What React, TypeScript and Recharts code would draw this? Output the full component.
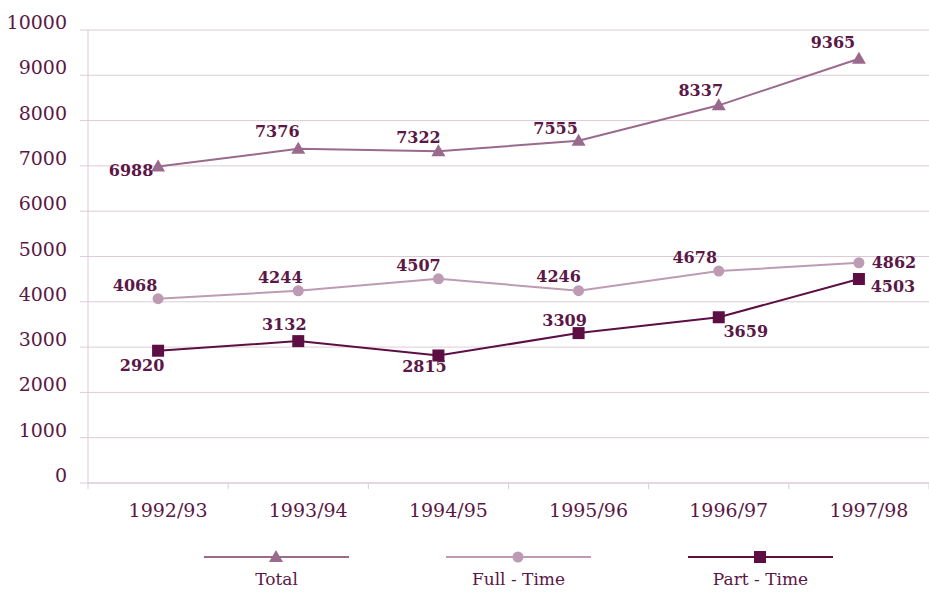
import React from 'react';
import { LineChart, Line, XAxis, YAxis, CartesianGrid, LabelList } from 'recharts';

const years = ['1992/93', '1993/94', '1994/95', '1995/96', '1996/97', '1997/98'];
const totalValues = [6988, 7376, 7322, 7555, 8337, 9365];
const fullTimeValues = [4068, 4244, 4507, 4246, 4678, 4862];
const partTimeValues = [2920, 3132, 2815, 3309, 3659, 4503];
const yTicks = [0, 1000, 2000, 3000, 4000, 5000, 6000, 7000, 8000, 9000, 10000];

const data = years.map((year, i) => ({
  year,
  total: totalValues[i],
  fullTime: fullTimeValues[i],
  partTime: partTimeValues[i],
}));

// label placement relative to each point (dx, dy)
const totalOffsets = [[-27, 4], [-21, -17], [-20, -14], [-23, -12], [-18, -15], [-26, -16]];
const fullOffsets = [[-23, -13], [-18, -13], [-20, -13], [-20, -14], [-24, -14], [35, 0]];
const partOffsets = [[-16, 15], [-14, -17], [-14, 11], [-14, -13], [27, 14], [34, 7]];

const TEXT = '#5b1746';
const GRID = '#dccbd6';
const C_TOTAL = '#9a6a8c';
const C_FULL = '#bd9cb3';
const C_PART = '#5d0f44';
const SERIF = '"DejaVu Serif", serif';

const W = 929;
const H = 596;
const X_AXIS_H = 30;
const M = { top: 30, right: 0, left: 0, bottom: 113 - X_AXIS_H };
const Y_AXIS_W = 88;
const BAND = (W - Y_AXIS_W) / years.length;

const Triangle = ({ cx, cy, fill }: any) => (
  <path d={`M${cx},${cy - 7}L${cx + 7},${cy + 5}L${cx - 7},${cy + 5}Z`} fill={fill} />
);
const Circle = ({ cx, cy, fill }: any) => <circle cx={cx} cy={cy} r={5.5} fill={fill} />;
const Square = ({ cx, cy, fill }: any) => (
  <rect x={cx - 6} y={cy - 6} width={12} height={12} fill={fill} />
);

const makeLabel = (offsets: number[][]) => (props: any) => {
  const { x, y, value, index } = props;
  const [dx, dy] = offsets[index] || [0, -12];
  return (
    <text
      key={index}
      x={x + dx}
      y={y + dy}
      textAnchor="middle"
      dominantBaseline="central"
      fill={TEXT}
      fontFamily={SERIF}
      fontWeight="bold"
      fontSize={16}
    >
      {value}
    </text>
  );
};

const YTick = ({ x, y, payload }: any) => (
  <text x={x - 11} y={y - 8} textAnchor="end" dominantBaseline="central" fill={TEXT} fontFamily={SERIF} fontSize={19}>
    {payload.value}
  </text>
);

const XTick = ({ x, y, payload, index }: any) => (
  <g>
    <line x1={x - BAND / 2} y1={y - 8} x2={x - BAND / 2} y2={y - 2} stroke={GRID} />
    {index === years.length - 1 && (
      <line x1={x + BAND / 2} y1={y - 8} x2={x + BAND / 2} y2={y - 2} stroke={GRID} />
    )}
    <text x={x + 10} y={y + 19} textAnchor="middle" dominantBaseline="central" fill={TEXT} fontFamily={SERIF} fontSize={19}>
      {payload.value}
    </text>
  </g>
);

const legendItems = [
  { name: 'Total', color: C_TOTAL, shape: 'triangle' },
  { name: 'Full - Time', color: C_FULL, shape: 'circle' },
  { name: 'Part - Time', color: C_PART, shape: 'square' },
];

const LegendMarker = ({ shape, color }: any) => {
  const cx = 72;
  const cy = 8;
  if (shape === 'triangle') return <Triangle cx={cx} cy={cy} fill={color} />;
  if (shape === 'circle') return <Circle cx={cx} cy={cy} fill={color} />;
  return <Square cx={cx} cy={cy} fill={color} />;
};

export default function App() {
  return (
    <div style={{ position: 'absolute', left: 0, top: 0, width: W, height: H, background: '#fff' }}>
      <LineChart width={W} height={H} data={data} margin={M}>
        <CartesianGrid horizontal vertical={false} stroke={GRID} />
        <XAxis
          dataKey="year"
          height={X_AXIS_H}
          padding={{ left: BAND / 2, right: BAND / 2 }}
          axisLine={{ stroke: GRID }}
          tickLine={false}
          tick={<XTick />}
          interval={0}
        />
        <YAxis
          width={Y_AXIS_W}
          domain={[0, 10000]}
          ticks={yTicks}
          interval={0}
          axisLine={{ stroke: GRID }}
          tickLine={{ stroke: GRID }}
          tickSize={8}
          tick={<YTick />}
        />
        <Line
          dataKey="total"
          stroke={C_TOTAL}
          strokeWidth={2}
          dot={(p: any) => <Triangle key={p.index} cx={p.cx} cy={p.cy} fill={C_TOTAL} />}
          isAnimationActive={false}
        >
          <LabelList dataKey="total" content={makeLabel(totalOffsets)} />
        </Line>
        <Line
          dataKey="fullTime"
          stroke={C_FULL}
          strokeWidth={2}
          dot={(p: any) => <Circle key={p.index} cx={p.cx} cy={p.cy} fill={C_FULL} />}
          isAnimationActive={false}
        >
          <LabelList dataKey="fullTime" content={makeLabel(fullOffsets)} />
        </Line>
        <Line
          dataKey="partTime"
          stroke={C_PART}
          strokeWidth={2}
          dot={(p: any) => <Square key={p.index} cx={p.cx} cy={p.cy} fill={C_PART} />}
          isAnimationActive={false}
        >
          <LabelList dataKey="partTime" content={makeLabel(partOffsets)} />
        </Line>
      </LineChart>
      <div style={{ position: 'absolute', top: 549, left: 0, width: W, height: 47 }}>
        {legendItems.map((item, i) => (
          <div
            key={item.name}
            style={{ position: 'absolute', left: 204 + i * 242, top: 0, width: 145, textAlign: 'center' }}
          >
            <svg width={145} height={16} style={{ display: 'block' }}>
              <line x1={0} y1={8} x2={145} y2={8} stroke={item.color} strokeWidth={2} />
              <LegendMarker shape={item.shape} color={item.color} />
            </svg>
            <div style={{ fontFamily: SERIF, fontSize: 17, color: TEXT, marginTop: 4, lineHeight: '20px' }}>
              {item.name}
            </div>
          </div>
        ))}
      </div>
    </div>
  );
}
